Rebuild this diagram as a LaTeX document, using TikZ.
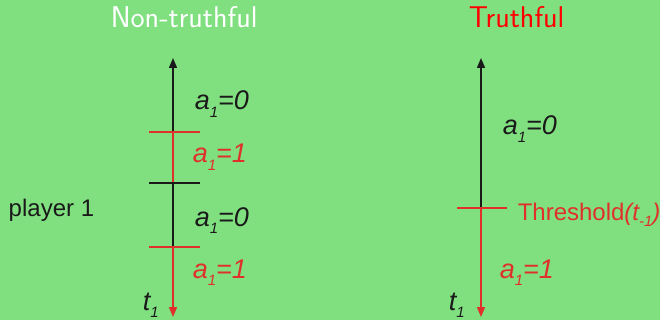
\documentclass[tikz,border=0pt]{standalone}
\usepackage{fontspec}
\setmainfont{Liberation Sans}
\usetikzlibrary{arrows.meta}
\tikzset{every picture/.style={line width=1.5pt}}
\definecolor{SlideGreen}{HTML}{80E080}
\definecolor{AxisRed}{HTML}{E0302A}
\definecolor{AxisBlack}{HTML}{1A1A1A}
\newcommand{\lowidx}[1]{\raisebox{-0.28em}{\fontsize{15}{15}\selectfont #1}}
\tikzset{
    axisseg/.style={line width=1.5pt},
    cutmark/.style={line width=1.2pt},
    choice/.style={anchor=base west, inner sep=0pt, font=\fontsize{27}{32}\selectfont\itshape},
    plain/.style={anchor=base west, inner sep=0pt, font=\fontsize{24}{28}\selectfont},
    title/.style={anchor=base west, inner sep=0pt, font=\fontsize{30}{34}\selectfont\sffamily}
}

\begin{document}
\begin{tikzpicture}[x=1pt, y=-1pt]
    \fill[SlideGreen] (0,0) rectangle (660,320);
    \useasboundingbox (0,0) rectangle (660,320);
    % titles
    \node[title, text=white] (lefttitle) at (110,28) {Non-truthful};
    \node[title, text=red] (righttitle) at (468,28) {Truthful};
    \node[plain, text=AxisBlack] (player) at (8,216) {player 1};
    % left axis
    \coordinate (Ltop) at (173,58);
    \coordinate (Lcut1) at (173,132);
    \coordinate (Lcut2) at (173,183);
    \coordinate (Lcut3) at (173,247);
    \coordinate (Lbot) at (173,317);
    \draw[axisseg, AxisBlack, -{Triangle[length=10pt, width=8pt]}] (Lcut1) -- (Ltop);
    \draw[axisseg, AxisRed] (Lcut1) -- (Lcut2);
    \draw[axisseg, AxisBlack] (Lcut2) -- (Lcut3);
    \draw[axisseg, AxisRed, -{Triangle[length=10pt, width=8pt]}] (Lcut3) -- (Lbot);
    \draw[cutmark, AxisRed] ([xshift=-24pt]Lcut1) -- ([xshift=27pt]Lcut1);
    \draw[cutmark, AxisBlack] ([xshift=-24pt]Lcut2) -- ([xshift=27pt]Lcut2);
    \draw[cutmark, AxisRed] ([xshift=-24pt]Lcut3) -- ([xshift=27pt]Lcut3);
    \node[choice, text=AxisBlack] (la) at (194,110) {a\lowidx{1}=0};
    \node[choice, text=AxisRed] (lb) at (192,163) {a\lowidx{1}=1};
    \node[choice, text=AxisBlack] (lc) at (194,226) {a\lowidx{1}=0};
    \node[choice, text=AxisRed] (ld) at (192,278) {a\lowidx{1}=1};
    \node[choice, text=AxisBlack] (lt) at (142,310) {t\lowidx{1}};
    % right axis
    \coordinate (Rtop) at (481,58);
    \coordinate (Rcut) at (481,208);
    \coordinate (Rbot) at (481,317);
    \draw[axisseg, AxisBlack, -{Triangle[length=10pt, width=8pt]}] (Rcut) -- (Rtop);
    \draw[axisseg, AxisRed, -{Triangle[length=10pt, width=8pt]}] (Rcut) -- (Rbot);
    \draw[cutmark, AxisRed] ([xshift=-24pt]Rcut) -- ([xshift=26pt]Rcut);
    \node[choice, text=AxisBlack] (ra) at (502,135) {a\lowidx{1}=0};
    \node[plain, font=\fontsize{24}{28}\selectfont, text=AxisRed] (thr) at (517,220) {Threshold\textit{(t\lowidx{-1})}};
    \node[choice, text=AxisRed] (rb) at (499,278) {a\lowidx{1}=1};
    \node[choice, text=AxisBlack] (rt) at (448,310) {t\lowidx{1}};
\end{tikzpicture}
\end{document}
